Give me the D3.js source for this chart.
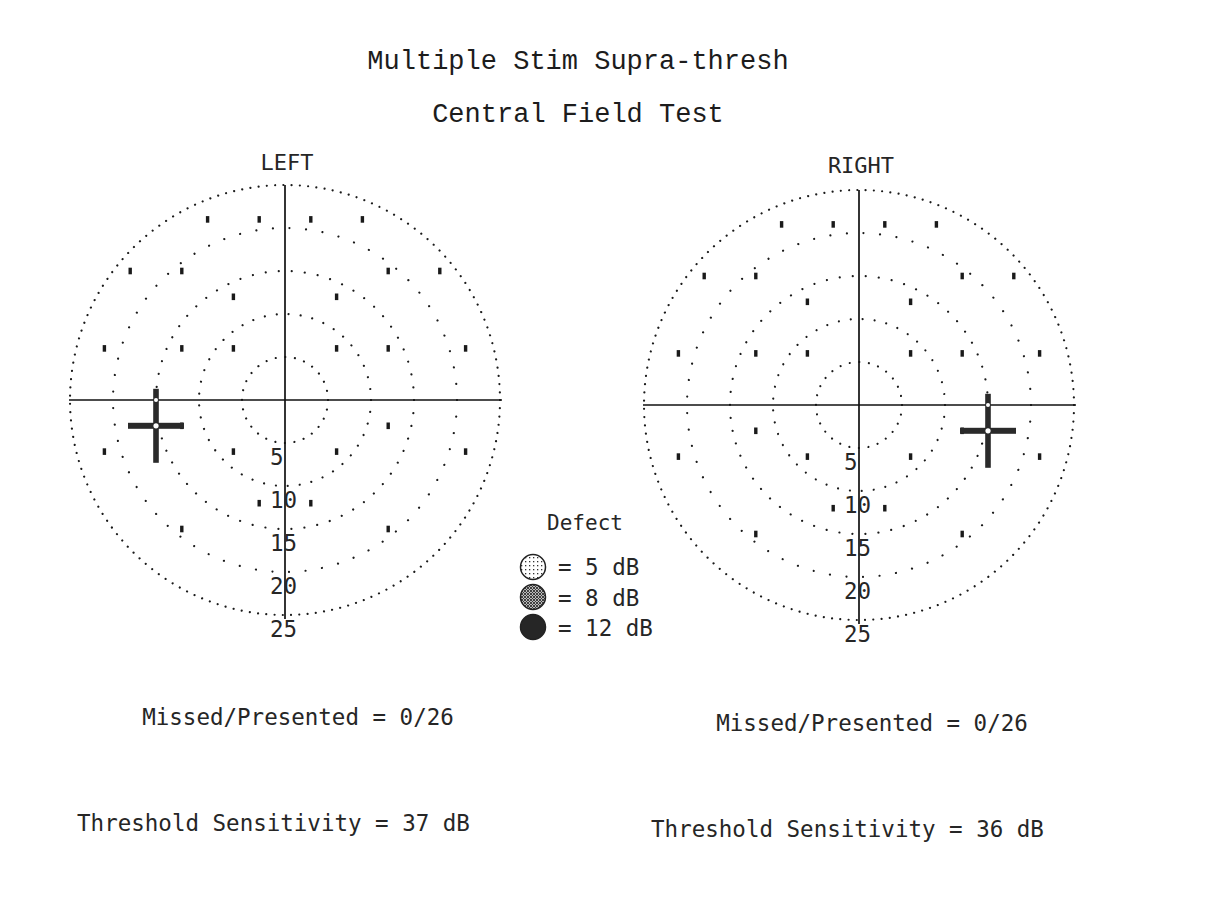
<!DOCTYPE html>
<html>
<head>
<meta charset="utf-8">
<script src="https://cdn.jsdelivr.net/npm/d3@7"></script>
<style>
  body { margin: 0; background: #fff; }
  .mono { font-family: "DejaVu Sans Mono", monospace; fill: #262626; }
  .title { font-family: "Liberation Mono", "Courier New", monospace; fill: #1c1c1c; }
</style>
</head>
<body>
<svg id="chart" width="1211" height="915"></svg>
<script>
// 数据
const titles = ['Multiple Stim Supra-thresh', 'Central Field Test'];
const eyes = ['LEFT', 'RIGHT'];
const ringDeg = [5, 10, 15, 20, 25];
const ringLabels = ['5', '10', '15', '20', '25'];
// 刺激点 (x deg, y deg) 左眼; 右眼镜像
const stimX = [-9, -3, 3, 9, -18, -12, 12, 18, -6, 6, -21, -12, -6, 6, 12, 21, -12, 12, -21, -6, 6, 21, -3, 3, -12, 12];
const stimY = [21, 21, 21, 21, 15, 15, 15, 15, 12, 12, 6, 6, 6, 6, 6, 6, -3, -3, -6, -6, -6, -6, -12, -12, -15, -15];
const blindSpotX = [-15, 15];
const blindSpotY = [-3, -3];
const missed = [0, 0];
const presented = [26, 26];
const sensitivity = [37, 36];
const defectLevels = [5, 8, 12];

const svg = d3.select('#chart');

// 标题
svg.selectAll('text.title')
    .data(titles)
    .enter()
    .append('text')
    .attr('class', 'title')
    .attr('x', 578)
    .attr('y', (d, i) => 69 + i * 53)
    .attr('text-anchor', 'middle')
    .style('font-size', '27px')
    .text(d => d);

// 图案
const defs = svg.append('defs');
const p5 = defs.append('pattern').attr('id', 'pat5').attr('width', 4).attr('height', 4).attr('patternUnits', 'userSpaceOnUse');
p5.append('rect').attr('width', 4).attr('height', 4).attr('fill', '#fff');
p5.append('rect').attr('x', 1).attr('y', 1).attr('width', 1.3).attr('height', 1.3).attr('fill', '#333');
const p8 = defs.append('pattern').attr('id', 'pat8').attr('width', 3).attr('height', 3).attr('patternUnits', 'userSpaceOnUse');
p8.append('rect').attr('width', 3).attr('height', 3).attr('fill', '#bbb');
p8.append('path').attr('d', 'M0,0 L3,3 M3,0 L0,3').attr('stroke', '#333').attr('stroke-width', 0.9);
const fills = ['url(#pat5)', 'url(#pat8)', '#262626'];

const centers = [{ cx: 285, cy: 400 }, { cx: 859, cy: 405 }];
const R = 215;

function drawEye(i) {
    const { cx, cy } = centers[i];
    const x = d3.scaleLinear().domain([-25, 25]).range([cx - R, cx + R]);
    const y = d3.scaleLinear().domain([-25, 25]).range([cy + R, cy - R]);
    const r = d3.scaleLinear().domain([0, 25]).range([0, R]);
    const g = svg.append('g');

    // 虚线圆
    g.selectAll('circle.ring')
        .data(ringDeg)
        .enter()
        .append('circle')
        .attr('cx', x(0))
        .attr('cy', y(0))
        .attr('r', d => r(d))
        .attr('fill', 'none')
        .attr('stroke', '#1a1a1a')
        .attr('stroke-width', 2.2)
        .attr('stroke-linecap', 'round')
        .attr('stroke-dasharray', d => {
            const c = 2 * Math.PI * r(d);
            const sp = d === 25 ? 8.3 : d === 5 ? 9.5 : d === 10 ? 12 : d === 15 ? 13 : 16.5;
            const n = Math.round(c / sp);
            return `0.01 ${c / n - 0.01}`;
        });

    // 坐标轴
    g.append('line')
        .attr('x1', x(-25) - 1).attr('x2', x(25) + 2)
        .attr('y1', y(0)).attr('y2', y(0))
        .attr('stroke', '#111').attr('stroke-width', 1.7);
    g.append('line')
        .attr('x1', x(0)).attr('x2', x(0))
        .attr('y1', y(25)).attr('y2', y(-25) + 4)
        .attr('stroke', '#111').attr('stroke-width', 1.7);

    // 刻度标签 (左对齐)
    g.selectAll('text.rl')
        .data(ringLabels)
        .enter()
        .append('text')
        .attr('class', 'mono')
        .attr('x', x(0) - 15)
        .attr('y', (d, k) => y(-ringDeg[k]) + 22)
        .style('font-size', '22.5px')
        .text(d => d);

    // 刺激点
    const sign = i === 0 ? 1 : -1;
    g.selectAll('rect.stim')
        .data(stimX.map((v, k) => [v * sign, stimY[k]]))
        .enter()
        .append('rect')
        .attr('x', d => x(d[0]) - 1.7)
        .attr('y', d => y(d[1]) - 3.3)
        .attr('width', 3.4)
        .attr('height', 6.6)
        .attr('fill', '#1a1a1a');

    // 盲点十字
    const bx = x(blindSpotX[i]), by = y(blindSpotY[i]);
    g.append('rect').attr('x', bx - 2.8).attr('y', by - 37).attr('width', 5.6).attr('height', 74).attr('fill', '#2a2a2a');
    g.append('rect').attr('x', bx - 28).attr('y', by - 3).attr('width', 56).attr('height', 6).attr('fill', '#2a2a2a');
    g.append('circle').attr('cx', bx).attr('cy', by).attr('r', 2.6).attr('fill', '#fff');
    g.append('circle').attr('cx', bx).attr('cy', y(0)).attr('r', 2).attr('fill', '#fff');

    // 眼别
    svg.append('text')
        .attr('class', 'mono')
        .attr('x', x(0) + 2)
        .attr('y', cy - 230 + (i === 0 ? 0 : -2))
        .attr('text-anchor', 'middle')
        .style('font-size', '22px')
        .text(eyes[i]);
}

drawEye(0);
drawEye(1);

// 统计文本
const statX = [[298, 273.5], [872, 847.5]];
const statY = [[725, 831], [731, 837]];
[0, 1].forEach(i => {
    svg.append('text')
        .attr('class', 'mono')
        .attr('x', statX[i][0]).attr('y', statY[i][0])
        .attr('text-anchor', 'middle')
        .style('font-size', '22.5px')
        .text(`Missed/Presented = ${missed[i]}/${presented[i]}`);
    svg.append('text')
        .attr('class', 'mono')
        .attr('x', statX[i][1]).attr('y', statY[i][1])
        .attr('text-anchor', 'middle')
        .style('font-size', '22.5px')
        .text(`Threshold Sensitivity = ${sensitivity[i]} dB`);
});

// 图例
const lg = svg.append('g');
lg.append('text')
    .attr('class', 'mono')
    .attr('x', 585).attr('y', 530)
    .attr('text-anchor', 'middle')
    .style('font-size', '21px')
    .text('Defect');
lg.selectAll('circle.lc')
    .data(defectLevels)
    .enter()
    .append('circle')
    .attr('cx', 533)
    .attr('cy', (d, k) => 567 + k * 30)
    .attr('r', 12.5)
    .attr('fill', (d, k) => fills[k])
    .attr('stroke', '#222')
    .attr('stroke-width', 1.5);
lg.selectAll('text.lt')
    .data(defectLevels)
    .enter()
    .append('text')
    .attr('class', 'mono')
    .attr('x', 558)
    .attr('y', (d, k) => 575 + k * 30.5)
    .style('font-size', '22.5px')
    .text(d => `= ${d} dB`);
</script>
</body>
</html>
